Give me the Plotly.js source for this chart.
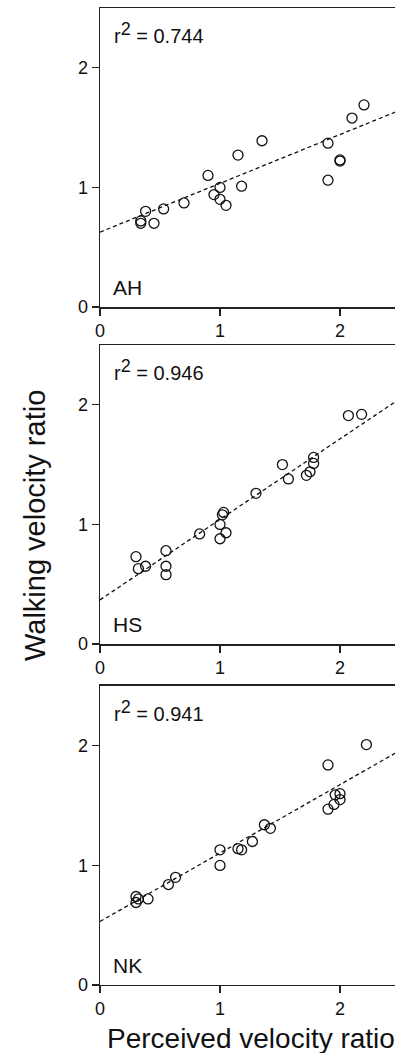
<!DOCTYPE html>
<html>
<head>
<meta charset="utf-8">
<script src="https://cdn.plot.ly/plotly-3.0.1.min.js"></script>
<style>
html, body { margin: 0; padding: 0; overflow: hidden; background: #fff; }
#chart { width: 420px; height: 1053px; }
</style>
</head>
<body>
<div id="chart"></div>
<script>
// Panel labels and fit statistics
const subjects = ["AH", "HS", "NK"];
const r2Values = ["0.744", "0.946", "0.941"];
const fitIntercepts = [0.626, 0.369, 0.531];
const fitSlopes = [0.408, 0.673, 0.572];

// AH
const ahPerceived = [0.34, 0.34, 0.38, 0.45, 0.53, 0.70, 0.90, 0.95, 1.00, 1.00, 1.05, 1.15, 1.18, 1.35, 1.90, 1.90, 2.00, 2.00, 2.10, 2.20];
const ahWalking   = [0.72, 0.70, 0.80, 0.70, 0.82, 0.87, 1.10, 0.94, 1.00, 0.90, 0.85, 1.27, 1.01, 1.39, 1.37, 1.06, 1.23, 1.22, 1.58, 1.69];

// HS
const hsPerceived = [0.30, 0.32, 0.38, 0.55, 0.55, 0.55, 0.83, 1.00, 1.00, 1.03, 1.02, 1.05, 1.30, 1.52, 1.57, 1.72, 1.75, 1.78, 1.78, 2.07, 2.18];
const hsWalking   = [0.73, 0.63, 0.65, 0.78, 0.65, 0.58, 0.92, 1.00, 0.88, 1.10, 1.08, 0.93, 1.26, 1.50, 1.38, 1.41, 1.44, 1.56, 1.51, 1.91, 1.92];

// NK
const nkPerceived = [0.30, 0.30, 0.32, 0.40, 0.57, 0.63, 1.00, 1.00, 1.15, 1.18, 1.27, 1.37, 1.42, 1.90, 1.90, 1.95, 1.96, 2.00, 2.00, 2.22];
const nkWalking   = [0.74, 0.69, 0.72, 0.72, 0.84, 0.90, 1.13, 1.00, 1.14, 1.13, 1.20, 1.34, 1.31, 1.84, 1.47, 1.51, 1.59, 1.60, 1.55, 2.01];

const xTicks = [0, 1, 2];
const yTicks = [0, 1, 2];

const perceived = [ahPerceived, hsPerceived, nkPerceived];
const walking = [ahWalking, hsWalking, nkWalking];
const lineX = [0, 2.5];

const FONT = "Liberation Sans, Arial, Helvetica, sans-serif";
const domains = [[0.70845, 0.99240], [0.38841, 0.67236], [0.06458, 0.34853]];

const traces = [];
const layout = {
  width: 420, height: 1053,
  margin: { l: 100, r: 20, t: 0, b: 0 },
  paper_bgcolor: "#fff", plot_bgcolor: "#fff",
  showlegend: false,
  font: { family: FONT, color: "#111", size: 18 },
  annotations: []
};

for (let i = 0; i < 3; i++) {
  const sfx = i === 0 ? "" : String(i + 1);
  const xa = "x" + sfx, ya = "y" + sfx;
  traces.push({
    x: lineX,
    y: lineX.map(v => fitIntercepts[i] + fitSlopes[i] * v),
    xaxis: xa, yaxis: ya, mode: "lines", type: "scatter",
    line: { color: "#111", width: 1.3, dash: "4px,3px" },
    hoverinfo: "skip"
  });
  traces.push({
    x: perceived[i], y: walking[i],
    xaxis: xa, yaxis: ya, mode: "markers", type: "scatter",
    marker: { symbol: "circle-open", size: 10, color: "#111", line: { width: 1.3, color: "#111" } },
    cliponaxis: false
  });
  const axBase = {
    showline: true, linecolor: "#222", linewidth: 1.5, mirror: true,
    ticks: "outside", ticklen: 7, tickwidth: 1.2, tickcolor: "#222",
    showgrid: false, zeroline: false,
    tickfont: { family: FONT, size: 18, color: "#111" }
  };
  layout["xaxis" + sfx] = Object.assign({}, axBase, {
    domain: [0, 1], anchor: ya, range: [0, 2.5],
    tickvals: xTicks, ticktext: xTicks.map(String)
  });
  layout["yaxis" + sfx] = Object.assign({}, axBase, {
    domain: domains[i], anchor: xa, range: [0, 2.5],
    tickvals: yTicks, ticktext: yTicks.map(String)
  });
  layout.annotations.push({
    xref: xa + " domain", yref: ya + " domain",
    x: 0.04, y: 0.915, xanchor: "left", yanchor: "middle",
    text: "r<sup><span style=\"font-size:18px\">2</span></sup> = " + r2Values[i], showarrow: false,
    font: { family: FONT, size: 20, color: "#111" }
  });
  layout.annotations.push({
    xref: xa + " domain", yref: ya + " domain",
    x: 0.035, y: 0.064, xanchor: "left", yanchor: "middle",
    text: subjects[i], showarrow: false,
    font: { family: FONT, size: 21, color: "#111" }
  });
}

layout.annotations.push({
  xref: "paper", yref: "paper", x: -0.2167, y: 0.5014,
  xanchor: "center", yanchor: "middle", textangle: -90,
  text: "Walking velocity ratio", showarrow: false,
  font: { family: FONT, size: 29, color: "#111" }
});
layout.annotations.push({
  xref: "paper", yref: "paper", x: 0.503, y: 0.0133,
  xanchor: "center", yanchor: "middle",
  text: "Perceived velocity ratio", showarrow: false,
  font: { family: FONT, size: 28, color: "#111" }
});

Plotly.newPlot("chart", traces, layout, { displayModeBar: false, staticPlot: true });
</script>
</body>
</html>
